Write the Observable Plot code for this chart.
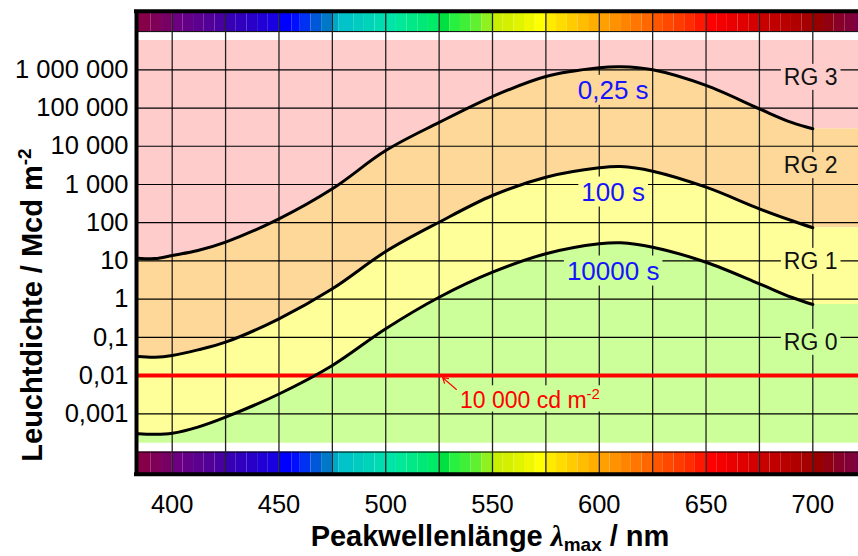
<!DOCTYPE html>
<html><head><meta charset="utf-8">
<script src="https://cdn.jsdelivr.net/npm/d3@7"></script>
<script src="https://cdn.jsdelivr.net/npm/@observablehq/plot@0.6"></script>
<style>html,body{margin:0;padding:0;background:#fff}svg{display:block}</style>
</head><body><div id="chart"></div>
<script>
// ---- data ----
const wavelengths = [384, 392, 400, 412, 425, 450, 475, 500, 525, 550, 575, 600, 610, 625, 650, 675, 690, 700];
const lum025s   = [11.8, 11.5, 13.9, 18.7, 31, 126, 770, 7700, 42000, 200000, 670000, 1130000, 1200000, 1000000, 390000, 95000, 42000, 28600];
const lum100s   = [0.0316, 0.0303, 0.0335, 0.047, 0.075, 0.306, 1.87, 17.6, 103, 515, 1550, 2730, 2950, 2230, 850, 231, 114, 73.6];
const lum10000s = [0.0003, 0.00029, 0.00031, 0.00045, 0.00082, 0.0033, 0.0184, 0.168, 1.12, 5.07, 15.4, 28, 29.8, 22.9, 9.25, 2.52, 1.12, 0.725];
const curveLabels = ["0,25 s", "100 s", "10000 s"];
const regionNames = ["RG 3", "RG 2", "RG 1", "RG 0"];
const regionColors = ["#ffcccc", "#fdd899", "#ffff99", "#ccff99"];
const limitValue = 0.01;
const xTicks = [400, 450, 500, 550, 600, 650, 700];
const xGrid = [400, 425, 450, 475, 500, 525, 550, 575, 600, 625, 650, 675, 700];
const yTicks = [1e-3, 1e-2, 1e-1, 1, 10, 100, 1e3, 1e4, 1e5, 1e6];
const yTickLabels = ["0,001", "0,01", "0,1", "1", "10", "100", "1 000", "10 000", "100 000", "1 000 000"];
const specWl = [383,390,395,400,405,410,415,420,425,430,435,440,445,450,456,460,465,470,475,478,485,490,495,500,505,510,515,520,525,530,535,540,545,550,555,560,565,570,575,580,585,590,595,600,605,610,615,620,625,630,635,640,645,650,655,660,665,670,675,680,685,690,695,700,705,710,715,720];
const specColors = ["#850048","#800058","#780064","#6c0080","#640088","#5c0090","#520098","#4800a0","#3800b4","#3000bc","#2800c8","#2000d4","#1800e0","#0000ff","#0010ff","#0030f0","#0058d8","#0078c8","#00a8c8","#00c4c8","#00ccc0","#00d4b8","#00dcb0","#00e4a8","#00e898","#00e888","#00e878","#00ec68","#00e040","#28f040","#40f038","#60f030","#90f020","#c8f000","#d4f000","#e0f400","#f0f800","#ffff00","#ffea00","#ffdc00","#ffcc00","#ffbc00","#ffae00","#ffa000","#ff9200","#ff8400","#ff7600","#ff6800","#ff5400","#ff4800","#ff3c00","#ff2c00","#ff1800","#ff0000","#f40000","#ea0000","#e00000","#d40000","#c80000","#c00000","#b80000","#b00000","#a40000","#980000","#900010","#880028","#800038","#780048"];

// ---- scale extents ----
const xDomain = [383.28, 721.4];
const yDomain = [Math.pow(10, -4.58), Math.pow(10, 7.531)];
const zoneTop = 5.85e6, zoneBottom = 1.7e-4;   // coloured zones
const specTop = 1e7, specBottom = 1e-4;         // spectrum strips

const rows = wavelengths.map((w, i) => ({w, a: lum025s[i], b: lum100s[i], c: lum10000s[i]}));
const last = rows[rows.length - 1];
const ext = [
  {y1: last.a, y2: zoneTop, f: regionColors[0]},
  {y1: last.b, y2: last.a, f: regionColors[1]},
  {y1: last.c, y2: last.b, f: regionColors[2]},
  {y1: zoneBottom, y2: last.c, f: regionColors[3]}
];
const spec = specWl.map((w, i) => ({x1: w, x2: i < specWl.length - 1 ? specWl[i + 1] : xDomain[1], f: specColors[i]}));
const curve = "catmull-rom";
const labelMap = new Map(yTicks.map((t, i) => [t, yTickLabels[i]]));

const svg = Plot.plot({
  width: 858, height: 556,
  marginLeft: 136, marginRight: 0, marginTop: 10.8, marginBottom: 82.3,
  style: {fontFamily: "'Liberation Sans', Arial, sans-serif", background: "#fff", color: "#000"},
  x: {type: "linear", domain: xDomain, label: null},
  y: {type: "log", domain: yDomain, label: null},
  marks: [
    Plot.areaY(rows, {x: "w", y1: "a", y2: zoneTop, fill: regionColors[0], curve}),
    Plot.areaY(rows, {x: "w", y1: "b", y2: "a", fill: regionColors[1], curve}),
    Plot.areaY(rows, {x: "w", y1: "c", y2: "b", fill: regionColors[2], curve}),
    Plot.areaY(rows, {x: "w", y1: zoneBottom, y2: "c", fill: regionColors[3], curve}),
    Plot.rect(ext, {x1: last.w, x2: xDomain[1], y1: "y1", y2: "y2", fill: "f"}),
    Plot.rect(spec, {x1: "x1", x2: "x2", y1: specTop, y2: yDomain[1], fill: "f"}),
    Plot.rect(spec, {x1: "x1", x2: "x2", y1: yDomain[0], y2: specBottom, fill: "f"}),
    Plot.ruleY([specTop], {stroke: "#000", strokeWidth: 1}),
    Plot.ruleY([specBottom], {stroke: "#000", strokeWidth: 1}),
    Plot.ruleX(xGrid, {stroke: "#222", strokeWidth: 1.3}),
    Plot.ruleY(yTicks, {stroke: "#000", strokeWidth: 1.2}),
    Plot.ruleY([limitValue], {stroke: "#ff0000", strokeWidth: 4}),
    Plot.line(rows, {x: "w", y: "a", curve, stroke: "#000", strokeWidth: 3}),
    Plot.line(rows, {x: "w", y: "b", curve, stroke: "#000", strokeWidth: 3}),
    Plot.line(rows, {x: "w", y: "c", curve, stroke: "#000", strokeWidth: 3}),
    Plot.arrow([0], {x1: 533.1, y1: 0.00433, x2: 526.6, y2: 0.0089, stroke: "#ff0000", strokeWidth: 1.1, headLength: 9}),
    Plot.text(curveLabels, {x: 606.5, y: [2.88e5, 628, 5.38], text: d => d, fill: "#1414ff", fontSize: 26,
      stroke: [regionColors[1], regionColors[2], regionColors[3]]}),
    Plot.text(regionNames, {x: 699, y: [6.3e5, 3090, 9.66, 0.0735], text: d => d, fill: "#111", fontSize: 23,
      stroke: regionColors}),
    Plot.ruleX([xDomain[0]], {stroke: "#000", strokeWidth: 4}),
    Plot.ruleY([yDomain[0], yDomain[1]], {stroke: "#000", strokeWidth: 4, strokeLinecap: "square"}),
    Plot.axisY(yTicks, {anchor: "left", tickSize: 0, tickPadding: 8, fontSize: 25.5, tickFormat: d => labelMap.get(d), label: null}),
    Plot.axisX(xTicks, {anchor: "bottom", tickSize: 0, tickPadding: 21, fontSize: 25.5, tickFormat: d => String(d), label: null})
  ]
});

document.getElementById("chart").appendChild(svg);
const s = d3.select(svg);

// rectangular backdrops behind in-plot labels (they interrupt the grid)
function backdrop(el, fill, padX, padTop, maxBottom) {
  const bb = el.getBBox();
  let y2 = bb.y + bb.height;
  if (maxBottom != null) y2 = Math.min(y2, maxBottom);
  const r = document.createElementNS("http://www.w3.org/2000/svg", "rect");
  r.setAttribute("x", bb.x - padX);
  r.setAttribute("y", bb.y - padTop);
  r.setAttribute("width", bb.width + 2 * padX);
  r.setAttribute("height", y2 - bb.y + padTop);
  r.setAttribute("fill", fill);
  r.setAttribute("stroke", "none");
  const tr = el.getAttribute("transform");
  if (tr) r.setAttribute("transform", tr);
  el.parentNode.insertBefore(r, el);
}
s.selectAll("g[aria-label='text'] text").each(function() {
  const fill = this.getAttribute("stroke") || "#fff";
  this.setAttribute("stroke", "none");
  backdrop(this, fill, 3, 0, null);
});

// red limit label
const lab = s.append("text").attr("x", 460).attr("y", 408.3).attr("fill", "#ff0000")
  .attr("text-anchor", "start").attr("font-size", 23);
lab.append("tspan").text("10 000 cd m");
lab.append("tspan").attr("font-size", 15).attr("dy", -9).text("-2");
backdrop(lab.node(), regionColors[3], 2, 0, 411.5);

// x title
const xt = s.append("text").attr("x", 490).attr("y", 546).attr("text-anchor", "middle")
  .attr("font-size", 29).attr("font-weight", "bold").attr("fill", "#000");
xt.append("tspan").text("Peakwellenlänge ");
xt.append("tspan").attr("font-style", "italic").attr("font-family", "'Liberation Serif', serif").text("λ");
xt.append("tspan").attr("font-size", 19).attr("dy", 5).text("max");
xt.append("tspan").attr("dy", -5).text(" / nm");

// y title
const yt = s.append("text").attr("transform", "translate(42,305) rotate(-90)").attr("text-anchor", "middle")
  .attr("font-size", 29).attr("font-weight", "bold").attr("fill", "#000");
yt.append("tspan").text("Leuchtdichte / Mcd m");
yt.append("tspan").attr("font-size", 19).attr("dy", -11).text("-2");
</script>
</body></html>
